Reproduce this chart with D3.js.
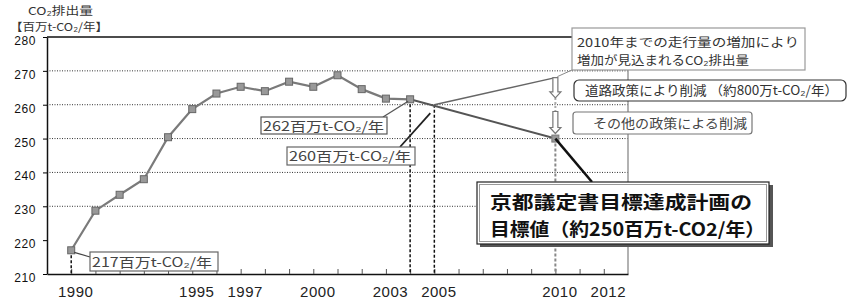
<!DOCTYPE html>
<html>
<head>
<meta charset="utf-8">
<script src="https://cdn.jsdelivr.net/npm/d3@7"></script>
<style>
  body { margin: 0; background: #fff; }
  svg { display: block; }
  text { font-family: "Noto Sans CJK JP", "Liberation Sans", sans-serif; }
</style>
</head>
<body>
<svg id="chart"></svg>
<script>
// Actual emissions of the transport sector, 1990-2004 (million t-CO2 / year)
let years = [1990, 1991, 1992, 1993, 1994, 1995, 1996, 1997, 1998, 1999, 2000, 2001, 2002, 2003, 2004];
let emissions = [217, 228.7, 233.4, 238, 250.4, 258.7, 263.3, 265.3, 264, 266.8, 265.3, 268.7, 264.6, 261.8, 261.6];

// projections towards 2010
let targetPath = [[2004, 261.6], [2010, 250]];   // path to the Kyoto target
let trafficPath = [[2005, 260], [2010, 268]];    // increase by traffic volume
let targetYear = 2010;
let targetValue = 250;

// dashed drop lines (year, value)
let dropYears = [1990, 2004, 2005];
let dropValues = [217, 261.6, 260];

// reduction arrows at 2010 (from, to)
let arrowFrom = [268, 258];
let arrowTo = [262, 251.5];

// axes
let yTicks = [210, 220, 230, 240, 250, 260, 270, 280];
let gridTicks = [230, 240, 250, 260, 270];
let yearLabels = [1990, 1995, 1997, 2000, 2003, 2005, 2010, 2012];
let minorYears = d3.range(1990, 2013);

let width = 849;
let height = 300;

let svg = d3.select("#chart").attr("width", width).attr("height", height);

let x = d3.scaleLinear().domain([1989, 2013]).range([47, 628]);
let y = d3.scaleLinear().domain([210, 280]).range([274, 37]);

// dotted grid
svg.selectAll(".grid")
    .data(gridTicks)
    .enter()
    .append("line")
    .attr("class", "grid")
    .attr("x1", x(1989)).attr("x2", x(2013))
    .attr("y1", d => y(d)).attr("y2", d => y(d))
    .attr("stroke", "#333")
    .attr("stroke-width", 1)
    .attr("stroke-dasharray", "1,1.5");

// frame: top line and right border
svg.append("line")
    .attr("x1", x(1989)).attr("x2", x(2013))
    .attr("y1", y(280)).attr("y2", y(280))
    .attr("stroke", "#111").attr("stroke-width", 1.5);
svg.append("line")
    .attr("x1", x(2013)).attr("x2", x(2013))
    .attr("y1", y(280)).attr("y2", y(210))
    .attr("stroke", "#999").attr("stroke-width", 1.5);

// y axis
let yAxis = svg.append("g")
    .attr("transform", "translate(" + x(1989) + ",0)")
    .call(d3.axisLeft(y).tickValues(yTicks).tickSize(4).tickSizeOuter(0).tickPadding(7));
yAxis.select(".domain").attr("stroke", "#111").attr("stroke-width", 1.5);
yAxis.selectAll("text")
    .attr("dy", "0.62em")
    .style("font-family", "'Liberation Sans', sans-serif")
    .style("font-size", "12px")
    .style("letter-spacing", "0.6px")
    .attr("fill", "#111");

// x axis: minor ticks every year
let xMinor = svg.append("g")
    .attr("transform", "translate(0," + y(210) + ")")
    .call(d3.axisBottom(x).tickValues(minorYears).tickSize(-5).tickSizeOuter(0).tickFormat(""));
xMinor.select(".domain").attr("stroke", "#111").attr("stroke-width", 1.5);
xMinor.selectAll(".tick line").attr("stroke", "#555");

// x axis labels
let xLabels = svg.append("g")
    .attr("transform", "translate(0," + y(210) + ")")
    .call(d3.axisBottom(x).tickValues(yearLabels).tickSize(0).tickPadding(12).tickFormat(d3.format("d")));
xLabels.select(".domain").remove();
xLabels.selectAll("text")
    .attr("dx", "4")
    .style("font-family", "'Liberation Sans', sans-serif")
    .style("font-size", "15px")
    .style("letter-spacing", "0.5px")
    .attr("fill", "#222");

// dashed drop lines
svg.selectAll(".drop")
    .data(dropYears)
    .enter()
    .append("line")
    .attr("class", "drop")
    .attr("x1", d => x(d)).attr("x2", d => x(d))
    .attr("y1", (d, i) => y(dropValues[i])).attr("y2", y(210))
    .attr("stroke", "#111")
    .attr("stroke-width", 1.5)
    .attr("stroke-dasharray", "3,2");

svg.append("line")
    .attr("x1", x(targetYear)).attr("x2", x(targetYear))
    .attr("y1", y(targetValue)).attr("y2", y(210))
    .attr("stroke", "#888")
    .attr("stroke-width", 2)
    .attr("stroke-dasharray", "3,2");
svg.append("line")
    .attr("x1", x(targetYear)).attr("x2", x(targetYear))
    .attr("y1", y(arrowTo[0])).attr("y2", y(arrowFrom[1]))
    .attr("stroke", "#aaa")
    .attr("stroke-width", 2)
    .attr("stroke-dasharray", "2,2");

// projection lines
let line = d3.line().x(d => x(d[0])).y(d => y(d[1]));

svg.append("path")
    .datum(trafficPath)
    .attr("d", line)
    .attr("fill", "none")
    .attr("stroke", "#666")
    .attr("stroke-width", 1.5);

svg.append("path")
    .datum(targetPath)
    .attr("d", line)
    .attr("fill", "none")
    .attr("stroke", "#555")
    .attr("stroke-width", 2);

// actual series
let actual = years.map((d, i) => [d, emissions[i]]);
svg.append("path")
    .datum(actual)
    .attr("d", line)
    .attr("fill", "none")
    .attr("stroke", "#7a7a7a")
    .attr("stroke-width", 2.2);

svg.selectAll(".marker")
    .data(actual)
    .enter()
    .append("rect")
    .attr("class", "marker")
    .attr("x", d => x(d[0]) - 3.5)
    .attr("y", d => y(d[1]) - 3.5)
    .attr("width", 7).attr("height", 7)
    .attr("fill", "#999")
    .attr("stroke", "#666")
    .attr("stroke-width", 1);

svg.append("rect")
    .attr("x", x(targetYear) - 3.5)
    .attr("y", y(targetValue) - 3.5)
    .attr("width", 7).attr("height", 7)
    .attr("fill", "#999")
    .attr("stroke", "#777");

// hollow arrows at 2010
svg.selectAll(".arrow")
    .data(arrowFrom)
    .enter()
    .append("path")
    .attr("class", "arrow")
    .attr("d", function(d, i){
        let cx = x(targetYear);
        let y1 = y(d);
        let y2 = y(arrowTo[i]);
        return "M" + (cx - 2.5) + "," + y1 + "L" + (cx - 2.5) + "," + (y2 - 6) +
            "L" + (cx - 5.5) + "," + (y2 - 6) + "L" + cx + "," + y2 +
            "L" + (cx + 5.5) + "," + (y2 - 6) + "L" + (cx + 2.5) + "," + (y2 - 6) +
            "L" + (cx + 2.5) + "," + y1 + "Z";
    })
    .attr("fill", "#fff")
    .attr("stroke", "#777")
    .attr("stroke-width", 1.2);

// leader lines
function leader(x1, y1, x2, y2, color, w){
    svg.append("line")
        .attr("x1", x1).attr("y1", y1).attr("x2", x2).attr("y2", y2)
        .attr("stroke", color).attr("stroke-width", w);
}
leader(x(1990) + 3, y(217) + 2, 90, 257, "#444", 1.2);
leader(383, 117, x(2004) - 2, y(261.6) + 2, "#555", 1.3);
leader(400, 147, x(2005) - 4, y(257.5), "#222", 1.8);
leader(x(targetYear), y(targetValue), 592, 182, "#111", 2.5);
leader(572, 70, x(targetYear) + 2, y(268) - 1, "#888", 1);

// annotation boxes
function box(bx, by, bw, bh, stroke, rx){
    svg.append("rect")
        .attr("x", bx).attr("y", by).attr("width", bw).attr("height", bh)
        .attr("rx", rx || 0)
        .attr("fill", "#fff")
        .attr("stroke", stroke)
        .attr("stroke-width", 1.2);
}
function label(str, tx, ty, len, size, color, weight){
    svg.append("text")
        .attr("x", tx).attr("y", ty)
        .attr("textLength", len)
        .attr("lengthAdjust", "spacingAndGlyphs")
        .style("font-size", size + "px")
        .style("font-weight", weight || "normal")
        .attr("fill", color)
        .text(str);
}

// header
label("CO₂排出量", 28, 14.5, 65, 11, "#333");
label("【百万t-CO₂/年】", 10, 30.5, 98, 11, "#333");

box(90, 252, 128, 19, "#666");
label("217百万t-CO₂/年", 92, 267, 120, 13, "#444");

box(261, 117, 126, 17, "#555");
label("262百万t-CO₂/年", 263, 131, 121, 13, "#444");

box(287, 147, 128, 18, "#666");
label("260百万t-CO₂/年", 289, 161, 122, 13, "#444");

box(572, 28, 233, 42, "#999");
label("2010年までの走行量の増加により", 577, 47, 222, 12, "#333");
label("増加が見込まれるCO₂排出量", 577, 65, 172, 12, "#333");

box(574, 80, 272, 21, "#333", 5);
label("道路政策により削減 （約800万t-CO₂/年）", 585, 95, 253, 13, "#333");

box(573, 112, 179, 22, "#777", 3);
label("その他の政策による削減", 593, 128, 154, 13, "#444");

// Kyoto target box with shadow
svg.append("rect")
    .attr("x", 480).attr("y", 185).attr("width", 293).attr("height", 62)
    .attr("fill", "#555");
box(477, 182, 292, 62, "#222");
svg.append("rect")
    .attr("x", 479.5).attr("y", 184.5).attr("width", 287).attr("height", 57)
    .attr("fill", "none").attr("stroke", "#999").attr("stroke-width", 1);
label("京都議定書目標達成計画の", 490, 209, 262, 18, "#111", "bold");
label("目標値（約250百万t-CO2/年）", 490, 235.5, 275, 18, "#111", "bold");
</script>
</body>
</html>
